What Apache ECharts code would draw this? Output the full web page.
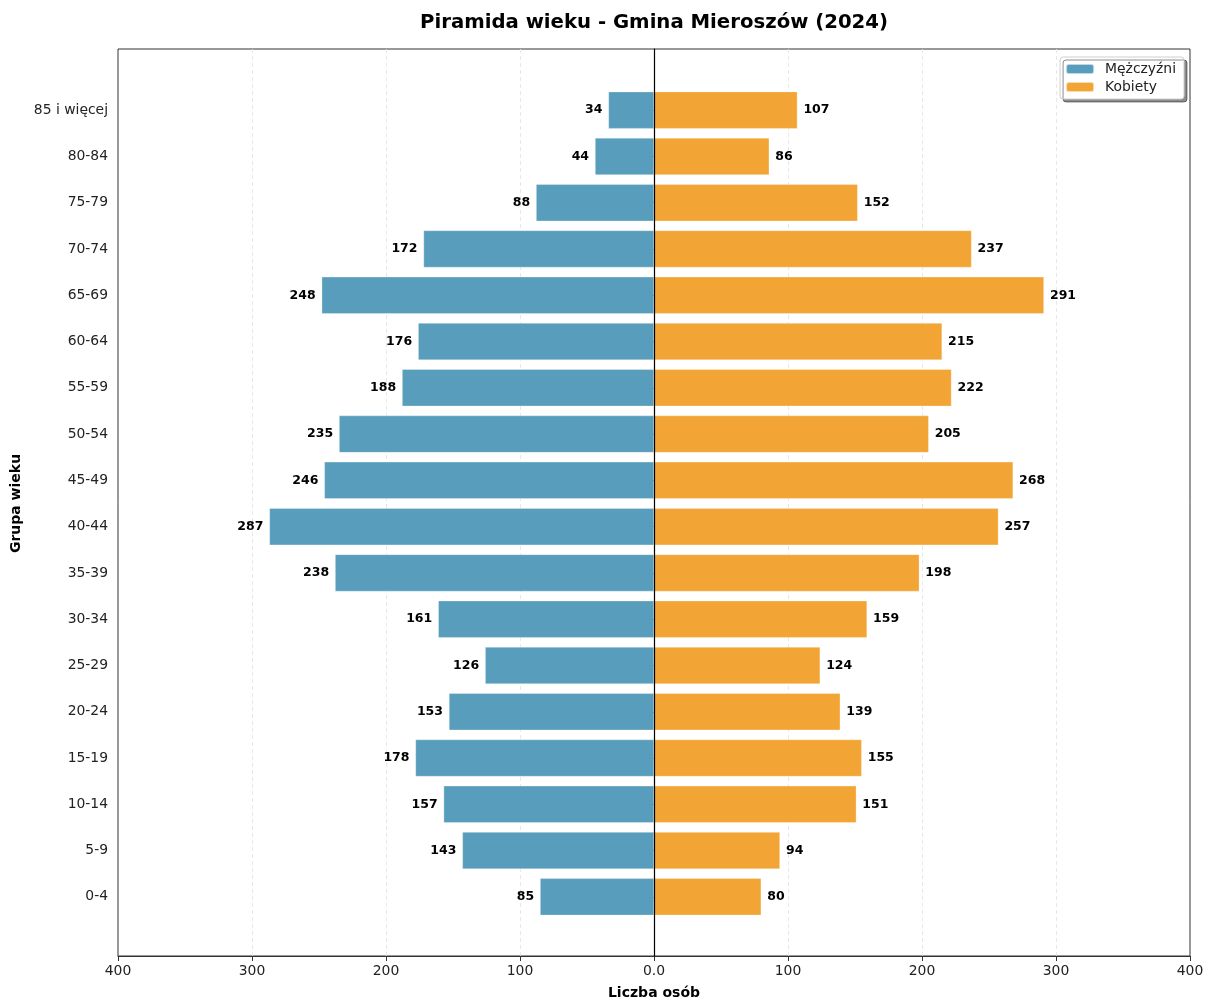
<!DOCTYPE html>
<html>
<head>
<meta charset="utf-8">
<script src="https://cdn.jsdelivr.net/npm/echarts@6/dist/echarts.min.js"></script>
<style>html,body{margin:0;padding:0;background:#fff;overflow:hidden;}#c{width:1206px;height:998px;}</style>
</head>
<body>
<div id="c"></div>
<script>
const categories = ['0-4','5-9','10-14','15-19','20-24','25-29','30-34','35-39','40-44','45-49','50-54','55-59','60-64','65-69','70-74','75-79','80-84','85 i więcej'];
const men = [85,143,157,178,153,126,161,238,287,246,235,188,176,248,172,88,44,34];
const women = [80,94,151,155,139,124,159,198,257,268,205,222,215,291,237,152,86,107];

const FONT = 'DejaVu Sans';
const chart = echarts.init(document.getElementById('c'));
chart.setOption({
  animation: false,
  textStyle: {fontFamily: FONT},
  title: {
    text: 'Piramida wieku - Gmina Mieroszów (2024)',
    left: 649, top: 8, textAlign: 'center',
    textStyle: {fontFamily: FONT, fontSize: 19.7, fontWeight: 'bold', color: '#000'}
  },
  legend: {
    orient: 'vertical', right: 22, top: 57,
    data: ['Mężczyźni', 'Kobiety'],
    itemWidth: 28, itemHeight: 10, itemGap: 4,
    backgroundColor: '#fff', borderColor: '#cfcfcf', borderWidth: 1, borderRadius: 3,
    padding: [5, 8, 5, 5],
    shadowColor: 'rgba(0,0,0,0.45)', shadowBlur: 0, shadowOffsetX: 3, shadowOffsetY: 3,
    textStyle: {fontFamily: FONT, fontSize: 13.9, color: '#222', padding: [0, 0, 0, 6]}
  },
  grid: [
    {left: 118, right: 16, top: 49, bottom: 42, show: true, borderColor: '#333', borderWidth: 1,
     backgroundColor: 'transparent', outerBoundsMode: 'none', containLabel: false},
    {left: 118, right: 16, top: 87, bottom: 78, outerBoundsMode: 'none', containLabel: false}
  ],
  xAxis: [
    {
      gridIndex: 0, type: 'value', min: -400, max: 400, interval: 100,
      name: 'Liczba osób', nameLocation: 'middle', nameGap: 30,
      nameTextStyle: {fontFamily: FONT, fontSize: 14, fontWeight: 'bold', color: '#000'},
      axisLine: {show: true, onZero: false, lineStyle: {color: '#333', width: 1}},
      axisTick: {show: true, length: 5, lineStyle: {color: '#333'}},
      axisLabel: {fontFamily: FONT, fontSize: 13.9, color: '#222', margin: 8,
        formatter: v => v === 0 ? '0.0' : String(Math.abs(v))},
      splitLine: {show: true, showMinLine: false, showMaxLine: false,
        lineStyle: {color: '#e2e2e2', type: [4, 3], width: 0.8}}
    },
    {
      gridIndex: 1, type: 'value', min: -400, max: 400, interval: 100, show: false,
      splitLine: {show: false}
    }
  ],
  yAxis: [
    {
      gridIndex: 0, type: 'value', min: 0, max: 1, z: 10,
      axisLine: {show: true, onZero: true, lineStyle: {color: '#000', width: 1.2}},
      axisTick: {show: false}, axisLabel: {show: false}, splitLine: {show: false}
    },
    {
      gridIndex: 1, type: 'category', data: categories, boundaryGap: true,
      name: 'Grupa wieku', nameLocation: 'middle', nameGap: 93, nameRotate: 90,
      nameTextStyle: {fontFamily: FONT, fontSize: 14, fontWeight: 'bold', color: '#000'},
      axisLine: {show: false},
      axisTick: {show: true, alignWithLabel: true, length: 5, lineStyle: {color: '#333'}},
      axisLabel: {fontFamily: FONT, fontSize: 13.9, color: '#222', margin: 10},
      splitLine: {show: false}
    }
  ],
  series: [
    {
      name: 'Mężczyźni', type: 'bar', xAxisIndex: 1, yAxisIndex: 1,
      data: men.map(v => -v), barWidth: '80%', barGap: '-100%',
      itemStyle: {color: '#589EBC', borderColor: 'rgba(255,255,255,0.6)', borderWidth: 0.5},
      label: {show: true, position: 'left', distance: 6, formatter: p => Math.abs(p.value),
        fontFamily: FONT, fontSize: 12.5, fontWeight: 'bold', color: '#000'}
    },
    {
      name: 'Kobiety', type: 'bar', xAxisIndex: 1, yAxisIndex: 1,
      data: women, barWidth: '80%', barGap: '-100%',
      itemStyle: {color: '#F2A535', borderColor: 'rgba(255,255,255,0.6)', borderWidth: 0.5},
      label: {show: true, position: 'right', distance: 6,
        fontFamily: FONT, fontSize: 12.5, fontWeight: 'bold', color: '#000'}
    }
  ]
});
</script>
</body>
</html>
